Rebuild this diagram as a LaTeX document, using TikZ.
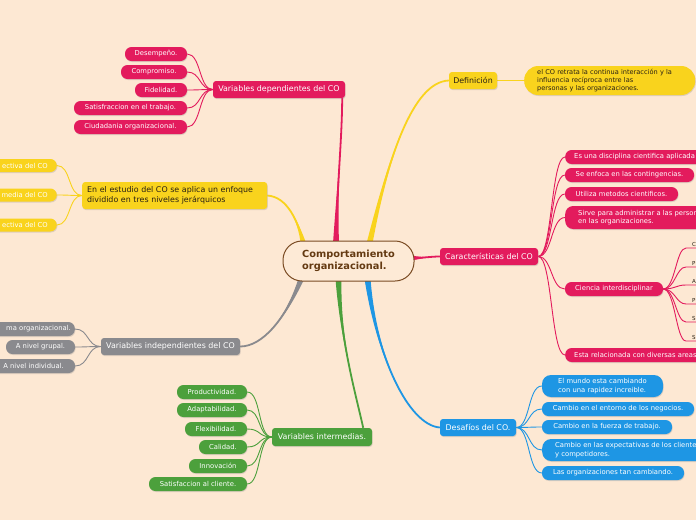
\documentclass[tikz,border=0pt]{standalone}
\usepackage{fontspec}
\setmainfont{DejaVu Sans}
\usetikzlibrary{calc,shadows}
\definecolor{bgc}{RGB}{253,232,211}
\definecolor{ctrfill}{RGB}{253,234,214}
\definecolor{cpink}{RGB}{227,27,93}
\definecolor{cyellow}{RGB}{249,211,29}
\definecolor{cgray}{RGB}{138,138,142}
\definecolor{cgreen}{RGB}{76,160,60}
\definecolor{cblue}{RGB}{30,150,228}
\definecolor{cbrown}{RGB}{122,75,35}
\definecolor{ctext}{RGB}{100,58,18}
\definecolor{cdark}{RGB}{40,32,20}
\pgfdeclarelayer{back}
\pgfdeclarelayer{mid}
\pgfsetlayers{back,mid,main}
\newcommand\taper[6]{%
  \fill[#1] ($(#2)+#3$) .. controls #4 and #5 .. (#6) .. controls #5 and #4 .. ($(#2)-#3$) -- cycle;
  \draw[#1,line width=1.8pt] (#2) .. controls #4 and #5 .. (#6);}
\tikzset{
  nb/.style={rectangle, inner sep=0pt, align=center,
    drop shadow={shadow xshift=0.6pt,shadow yshift=-1pt,opacity=0.25}},
  mainbox/.style={nb, rounded corners=3pt, minimum height=17pt, font=\fontsize{7.9}{9.6}\selectfont},
  subbox/.style={nb, rounded corners=6.5pt, minimum height=14pt, font=\fontsize{6.8}{8.4}\selectfont},
  pk/.style={fill=cpink,text=white},
  yl/.style={fill=cyellow,text=white},
  ylm/.style={fill=cyellow,text=cdark},
  gy/.style={fill=cgray,text=white},
  gn/.style={fill=cgreen,text=white},
  bl/.style={fill=cblue,text=white},
  conn/.style={line width=0.9pt},
  letter/.style={anchor=south west, inner xsep=6pt, inner ysep=1.2pt, text width=14pt, align=left,
    font=\fontsize{5.5}{6}\selectfont, text=cdark},
  ctrbox/.style={draw=cbrown, line width=1pt, fill=ctrfill, rounded corners=19pt,
    minimum width=131pt, minimum height=40pt, align=left, text=ctext,
    font=\bfseries\fontsize{9.8}{12.5}\selectfont},
}
\begin{document}
\begin{tikzpicture}[x=1pt,y=-1pt]
\begin{pgfonlayer}{back}
\fill[bgc] (0,0) rectangle (696,520);
\end{pgfonlayer}
\useasboundingbox (0,0) rectangle (696,520);

% centre
\node[ctrbox] (ctr) at (348.5,261) {Comportamiento\\organizacional.};

% main topics
\node[mainbox,pk,minimum width=132pt] (dep) at (279,89.5) {Variables dependientes del CO};
\node[mainbox,ylm,minimum height=27pt,anchor=west,inner xsep=5pt,text width=175pt,align=left] (niv) at (82,195.5) {En el estudio del CO se aplica un enfoque\\dividido en tres niveles jerárquicos};
\node[mainbox,gy,minimum width=139pt] (ind) at (170.5,346.5) {Variables independientes del CO};
\node[mainbox,gn,minimum width=100pt,minimum height=18pt] (int) at (322,437) {Variables intermedias.};
\node[mainbox,ylm,minimum width=48pt] (def) at (473,80.5) {Definición};
\node[nb,fill=cyellow,text=cdark,rounded corners=14pt,minimum height=29pt,anchor=west,inner xsep=13pt,text width=145pt,align=left,font=\fontsize{6.6}{8.2}\selectfont] (defb) at (524,80.5) {el CO retrata la continua interacción y la\\influencia recíproca entre las\\personas y las organizaciones.};
\node[mainbox,pk,minimum width=98pt] (car) at (489,256.5) {Características del CO};
\node[mainbox,bl,minimum width=76pt] (des) at (478,427.5) {Desafíos del CO.};

% dependientes
\node[subbox,pk,minimum width=62pt] (d1) at (156,54) {Desempeño.};
\node[subbox,pk,minimum width=66pt] (d2) at (154,72) {Compromiso.};
\node[subbox,pk,minimum width=52pt] (d3) at (161,90) {Fidelidad.};
\node[subbox,pk,minimum width=113pt] (d4) at (130.5,108) {Satisfraccion en el trabajo.};
\node[subbox,pk,minimum width=113pt] (d5) at (130.5,127) {Ciudadania organizacional.};

% niveles
\node[subbox,yl,minimum height=13pt,anchor=east,inner xsep=9pt,text width=70pt,align=right] (n1) at (57,165.5) {ectiva del CO};
\node[subbox,yl,minimum height=13pt,anchor=east,inner xsep=9pt,text width=70pt,align=right] (n2) at (57,195) {media del CO};
\node[subbox,yl,minimum height=13pt,anchor=east,inner xsep=9pt,text width=70pt,align=right] (n3) at (57,225) {ectiva del CO};

% independientes
\node[subbox,gy,anchor=east,inner xsep=4pt,text width=80pt,align=right] (i1) at (75,329) {ma organizacional.};
\node[subbox,gy,minimum width=69pt] (i2) at (40.5,347) {A nivel grupal.};
\node[subbox,gy,minimum width=83pt] (i3) at (33.5,366) {A nivel individual.};

% intermedias
\node[subbox,gn,minimum width=70pt] (g1) at (212,392) {Productividad.};
\node[subbox,gn,minimum width=70pt] (g2) at (212,410) {Adaptabilidad.};
\node[subbox,gn,minimum width=62pt] (g3) at (216,429) {Flexibilidad.};
\node[subbox,gn,minimum width=48pt] (g4) at (223,447) {Calidad.};
\node[subbox,gn,minimum width=58pt] (g5) at (218,466) {Innovación};
\node[subbox,gn,minimum width=98pt] (g6) at (198,484) {Satisfaccion al cliente.};

% caracteristicas
\node[subbox,pk,anchor=west,inner xsep=9pt] (c1) at (565,157) {Es una disciplina cientifica aplicada};
\node[subbox,pk,minimum width=129pt] (c2) at (629.5,175) {Se enfoca en las contingencias.};
\node[subbox,pk,minimum width=113pt] (c3) at (621.5,194) {Utiliza metodos cientificos.};
\node[subbox,pk,anchor=west,inner xsep=13pt,minimum height=23pt,align=left,rounded corners=8pt] (c4) at (565,217.5) {Sirve para administrar a las personas\\en las organizaciones.};
\node[subbox,pk,minimum width=98pt] (c5) at (614,289) {Ciencia interdisciplinar};
\node[subbox,pk,anchor=west,inner xsep=9pt] (c6) at (565,355) {Esta relacionada con diversas areas};

% interdisciplinar leaves
\node[letter] (s1) at (686,248) {C};
\node[letter] (s2) at (686,267) {P};
\node[letter] (s3) at (686,285) {A};
\node[letter] (s4) at (686,304) {P};
\node[letter] (s5) at (686,322) {S};
\node[letter] (s6) at (686,341) {S};

% desafios
\node[subbox,bl,minimum width=121pt,minimum height=22pt,rounded corners=9pt,align=left] (e1) at (602.5,386) {El mundo esta cambiando\\con una rapidez increible.};
\node[subbox,bl,minimum width=152pt] (e2) at (618,409) {Cambio en el entorno de los negocios.};
\node[subbox,bl,minimum width=130pt] (e3) at (607,427) {Cambio en la fuerza de trabajo.};
\node[subbox,bl,anchor=west,inner xsep=13pt,minimum height=22pt,rounded corners=9pt,align=left] (e4) at (542,450) {Cambio en las expectativas de los clientes\\y competidores.};
\node[subbox,bl,minimum width=142pt] (e5) at (613,473) {Las organizaciones tan cambiando.};

\begin{pgfonlayer}{mid}
% main tapered branches
\coordinate (a0) at ($(ctr.north)+(-12.5,3)$);
\coordinate (a1) at ($(dep.south east)+(-3,0)$);
\taper{cpink}{a0}{(3,0)}{(337,185)}{(342,140)}{a1}
\coordinate (b0) at ($(ctr.north)+(-45,3)$);
\taper{cyellow}{b0}{(2.8,0)}{(298,222)}{(288,197)}{niv.east}
\coordinate (c0) at ($(ctr.north)+(21,3)$);
\taper{cyellow}{c0}{(3,0)}{(388,160)}{(412,82)}{def.west}
\coordinate (f0) at ($(ctr.east)+(-3,-3)$);
\taper{cpink}{f0}{(0,2.5)}{(425,258)}{(430,256.5)}{car.west}
\coordinate (h0) at ($(ctr.south)+(-47,-3)$);
\taper{cgray}{h0}{(3,0)}{(285,320)}{(262,346.5)}{ind.east}
\coordinate (k0) at ($(ctr.south)+(-10,-3)$);
\coordinate (k1) at ($(int.north east)+(-9,0)$);
\taper{cgreen}{k0}{(3,0)}{(340,340)}{(356,395)}{k1}
\coordinate (m0) at ($(ctr.south)+(19,-3)$);
\taper{cblue}{m0}{(3,0)}{(376,355)}{(408,425)}{des.west}

% thin connectors
\draw[conn,cyellow] (def.east) -- (defb.west);
\foreach \n in {d1,d2,d3,d4,d5}
  \draw[conn,cpink] (dep.west) .. controls +(-14,0) and +(14,0) .. (\n.east);
\foreach \n in {n1,n2,n3}
  \draw[conn,cyellow] (niv.west) .. controls +(-14,0) and +(14,0) .. (\n.east);
\foreach \n in {i1,i2,i3}
  \draw[conn,cgray] (ind.west) .. controls +(-14,0) and +(14,0) .. (\n.east);
\foreach \n in {g1,g2,g3,g4,g5,g6}
  \draw[conn,cgreen] (int.west) .. controls +(-14,0) and +(14,0) .. (\n.east);
\foreach \n in {c1,c2,c3,c4,c5,c6}
  \draw[conn,cpink] (car.east) .. controls +(14,0) and +(-14,0) .. (\n.west);
\foreach \n in {s1,s2,s3,s4,s5,s6}
  \draw[conn,cpink] (c5.east) .. controls +(12,0) and +(-10,0) .. (\n.south west) -- (\n.south east);
\foreach \n in {e1,e2,e3,e4,e5}
  \draw[conn,cblue] (des.east) .. controls +(14,0) and +(-14,0) .. (\n.west);
\end{pgfonlayer}
\end{tikzpicture}
\end{document}
